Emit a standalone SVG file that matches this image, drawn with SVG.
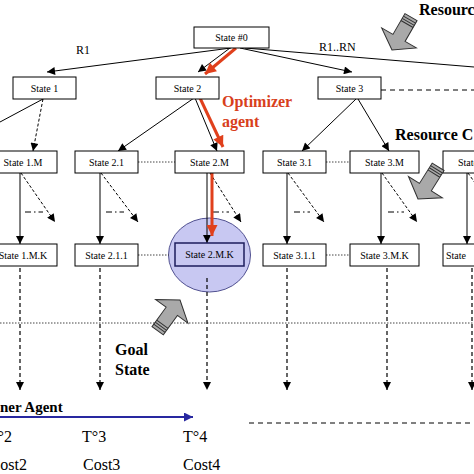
<svg xmlns="http://www.w3.org/2000/svg" width="474" height="474" viewBox="0 0 474 474">
<style>
.box{fill:#fff;stroke:#000;stroke-width:1}
.st{font-family:"Liberation Serif",serif;font-size:10px;text-anchor:middle;fill:#000}
.ln{stroke:#000;stroke-width:1;fill:none}
.dsh{stroke:#000;stroke-width:1;fill:none;stroke-dasharray:3 2}
.dd{stroke:#000;stroke-width:1;fill:none;stroke-dasharray:6 3 1.5 3}
.vd{stroke:#000;stroke-width:1.2;fill:none;stroke-dasharray:4 3}
.dot{stroke:#444;stroke-width:1;fill:none;stroke-dasharray:1.5 1.5}
.red{stroke:#e0401c;stroke-width:3;fill:none}
.lbl{font-family:"Liberation Serif",serif;font-size:12px;fill:#000}
.big{font-family:"Liberation Serif",serif;font-size:16px;font-weight:bold;fill:#000}
.tm{font-family:"Liberation Serif",serif;font-size:16px;fill:#000}
.blk{fill:#a9a9a9;stroke:#303030;stroke-width:1}
</style>
<defs>
<marker id="ah" viewBox="0 0 10 10" refX="10" refY="5" markerWidth="9" markerHeight="8" markerUnits="userSpaceOnUse" orient="auto"><path d="M0,0 L10,5 L0,10 z" fill="#000"/></marker>
<marker id="ahr" viewBox="0 0 10 10" refX="10" refY="5" markerWidth="12" markerHeight="11" markerUnits="userSpaceOnUse" orient="auto"><path d="M0,0 L10,5 L0,10 z" fill="#e0401c"/></marker>
<marker id="ahb" viewBox="0 0 10 10" refX="10" refY="5" markerWidth="11" markerHeight="9" markerUnits="userSpaceOnUse" orient="auto"><path d="M0,0 L10,5 L0,10 z" fill="#2828a0"/></marker>
<g id="blockarrow">
<path class="blk" d="M0,0 L-20,-14 L-7,-14 L-7,-38 L7,-38 L7,-14 L20,-14 z"/>
<path d="M-7,-35 L7,-35 M-7,-32.5 L7,-32.5 M-7,-30 L7,-30" stroke="#303030" stroke-width="1"/>
</g>
</defs>
<rect width="474" height="474" fill="#fff"/>

<!-- background lines -->
<g id="guides">
<path class="dot" d="M0,323 L474,323"/>
<path d="M249,423 L474,423" stroke="#000" stroke-width="1" stroke-dasharray="5 4" fill="none"/>
<path d="M381,90 L474,90" stroke="#000" stroke-width="1" stroke-dasharray="5 4" fill="none"/>
</g>

<!-- ellipse highlight -->
<ellipse id="goal-ellipse" cx="209.5" cy="255" rx="41" ry="37" fill="#c8c8f2" stroke="#505090" stroke-width="1"/>

<g id="connectors">
<!-- from State #0 -->
<path class="ln" d="M231,48 L47,72" marker-end="url(#ah)"/>
<path class="ln" d="M230,48 L198,72" marker-end="url(#ah)"/>
<path class="ln" d="M240,48 L352,72" marker-end="url(#ah)"/>
<path class="ln" d="M245,48 L474,67"/>
<path class="red" d="M236,48 L205,74" marker-end="url(#ahr)"/>
<!-- row1 to row2 -->
<path class="dsh" d="M43,99 L33,151" marker-end="url(#ah)"/>
<path class="ln" d="M43,99 L0,122"/>
<path class="ln" d="M194,98 L118,151" marker-end="url(#ah)"/>
<path class="ln" d="M195,98 L217,151" marker-end="url(#ah)"/>
<path class="red" d="M200,98 L223,147" marker-end="url(#ahr)"/>
<path class="ln" d="M356,99 L302,151" marker-end="url(#ah)"/>
<path class="ln" d="M358,99 L389,151" marker-end="url(#ah)"/>
<!-- row2 to row3 -->
<path class="ln" d="M20,173 L20,244" marker-end="url(#ah)"/>
<path class="dsh" d="M21,173 L55,222" marker-end="url(#ah)"/>
<path class="dd" d="M25,212 L43,212"/>
<path class="ln" d="M100,173 L100,244" marker-end="url(#ah)"/>
<path class="dsh" d="M101,173 L138,222" marker-end="url(#ah)"/>
<path class="dd" d="M106,212 L124,212"/>
<path class="ln" d="M207,173 L207,243" marker-end="url(#ah)"/>
<path class="dsh" d="M210,173 L241,222" marker-end="url(#ah)"/>
<path class="dd" d="M213,212 L229,212"/>
<path class="red" d="M212,173 L212,236" marker-end="url(#ahr)"/>
<path class="ln" d="M287,173 L287,244" marker-end="url(#ah)"/>
<path class="dsh" d="M288,173 L324,222" marker-end="url(#ah)"/>
<path class="dd" d="M294,212 L310,212"/>
<path class="ln" d="M381,173 L381,244" marker-end="url(#ah)"/>
<path class="dsh" d="M382,173 L417,222" marker-end="url(#ah)"/>
<path class="dd" d="M388,212 L404,212"/>
<path class="ln" d="M467,173 L467,244" marker-end="url(#ah)"/>
<path class="dsh" d="M468,173 L490,204"/>
<!-- dotted sibling links -->
<path class="dot" d="M138,162 L175,162"/>
<path class="dot" d="M326,162 L350,162"/>
<path class="dot" d="M138,255 L169,255"/>
<path class="dot" d="M326,255 L350,255"/>
<!-- downward dashed -->
<path class="vd" d="M20,268 L20,390" marker-end="url(#ah)"/>
<path class="vd" d="M100,268 L100,390" marker-end="url(#ah)"/>
<path class="vd" d="M207,278 L207,390" marker-end="url(#ah)"/>
<path class="vd" d="M287,268 L287,390" marker-end="url(#ah)"/>
<path class="vd" d="M387,268 L387,390" marker-end="url(#ah)"/>
<path class="vd" d="M472,268 L472,390" marker-end="url(#ah)"/>
<!-- planner timeline -->
<path d="M0,417 L193,417" stroke="#2828a0" stroke-width="2" fill="none" marker-end="url(#ahb)"/>
</g>

<g id="n-s0"><rect class="box" x="194" y="27" width="75" height="21"/><text class="st" x="231.5" y="41">State #0</text></g>
<g id="n-s1"><rect class="box" x="13" y="77" width="63" height="22"/><text class="st" x="44.5" y="91.5">State 1</text></g>
<g id="n-s2"><rect class="box" x="156" y="77" width="63" height="22"/><text class="st" x="187.5" y="91.5">State 2</text></g>
<g id="n-s3"><rect class="box" x="318" y="77" width="63" height="22"/><text class="st" x="349.5" y="91.5">State 3</text></g>

<g id="n-s1m"><rect class="box" x="-8" y="151" width="65" height="22"/><text class="st" x="23" y="165.5">State 1.M</text></g>
<g id="n-s21"><rect class="box" x="75" y="151" width="63" height="22"/><text class="st" x="106.5" y="165.5">State 2.1</text></g>
<g id="n-s2m"><rect class="box" x="175" y="151" width="69" height="22"/><text class="st" x="209.5" y="165.5">State 2.M</text></g>
<g id="n-s31"><rect class="box" x="263" y="151" width="63" height="22"/><text class="st" x="294.5" y="165.5">State 3.1</text></g>
<g id="n-s3m"><rect class="box" x="350" y="151" width="69" height="22"/><text class="st" x="384.5" y="165.5">State 3.M</text></g>
<g id="n-sr2"><rect class="box" x="443" y="151" width="70" height="22"/><text class="st" x="458" y="165.5" style="text-anchor:start">State</text></g>

<g id="n-s1mk"><rect class="box" x="-8" y="244" width="65" height="22"/><text class="st" x="23" y="258.5">State 1.M.K</text></g>
<g id="n-s211"><rect class="box" x="75" y="244" width="63" height="22"/><text class="st" x="106.5" y="258.5">State 2.1.1</text></g>
<g id="n-s2mk"><rect x="175" y="243" width="69" height="23" fill="none" stroke="#1c1c5c" stroke-width="1.5"/><text class="st" x="209.5" y="258">State 2.M.K</text></g>
<g id="n-s311"><rect class="box" x="263" y="244" width="63" height="22"/><text class="st" x="294.5" y="258.5">State 3.1.1</text></g>
<g id="n-s3mk"><rect class="box" x="350" y="244" width="69" height="22"/><text class="st" x="384.5" y="258.5">State 3.M.K</text></g>
<g id="n-sr3"><rect class="box" x="443" y="244" width="70" height="22"/><text class="st" x="446" y="258.5" style="text-anchor:start">State</text></g>

<g id="block-arrows">
<use href="#blockarrow" transform="translate(392,50) rotate(30)"/>
<use href="#blockarrow" transform="translate(418,199) rotate(32)"/>
<use href="#blockarrow" transform="translate(180,300) rotate(216)"/>
</g>

<g id="labels">
<text class="lbl" x="76" y="54">R1</text>
<text class="lbl" x="319" y="51">R1..RN</text>
<text class="big" x="419" y="15">Resource</text>
<text class="big" x="395" y="140">Resource C</text>
<text class="big" x="222" y="107" fill="#d8401c" style="fill:#d8401c">Optimizer</text>
<text class="big" x="222" y="127" style="fill:#d8401c">agent</text>
<text class="big" x="115" y="355">Goal</text>
<text class="big" x="115" y="375">State</text>
<text class="big" x="0" y="412" style="font-size:15px">ner Agent</text>
<text class="tm" x="12" y="442" style="text-anchor:end">T°2</text>
<text class="tm" x="82" y="442">T°3</text>
<text class="tm" x="183" y="442">T°4</text>
<text class="tm" x="27" y="470" style="text-anchor:end">Cost2</text>
<text class="tm" x="83" y="470">Cost3</text>
<text class="tm" x="183" y="470">Cost4</text>
</g>
</svg>
